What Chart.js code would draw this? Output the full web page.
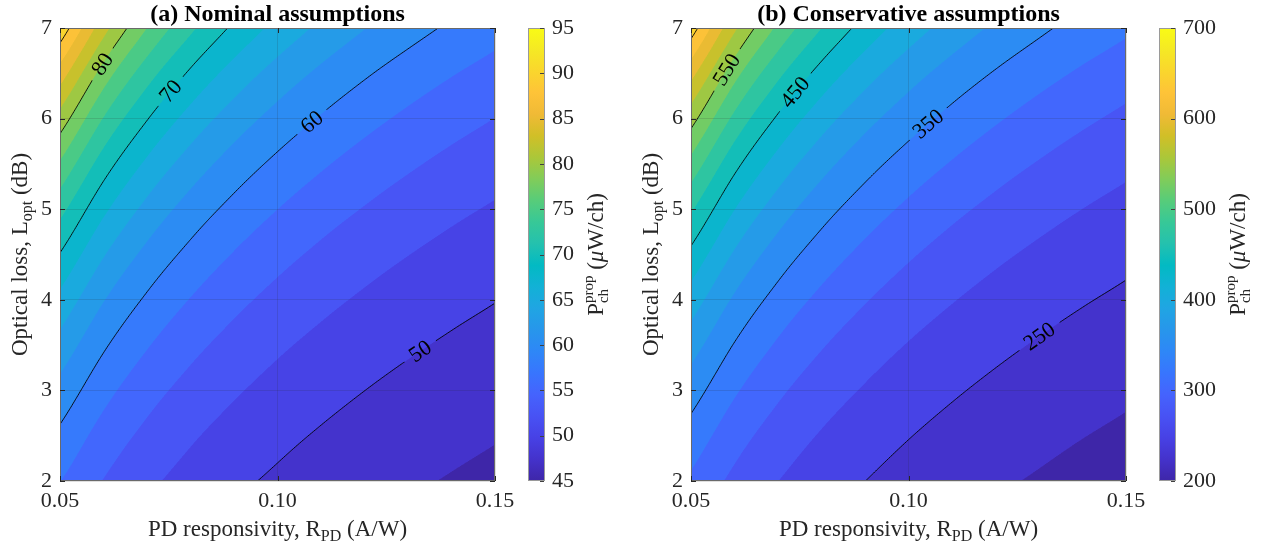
<!DOCTYPE html>
<html>
<head>
<meta charset="utf-8">
<title>Required optical power per channel</title>
<script src="https://cdn.jsdelivr.net/npm/chart.js@4.4.1/dist/chart.umd.min.js"></script>
<style>
  html, body { margin: 0; padding: 0; background: #fff; }
  #page { position: relative; width: 1273px; height: 551px; overflow: hidden; }
  #page canvas { position: absolute; top: 0; }
</style>
</head>
<body>
<div id="page">
  <canvas id="nominalChart" width="520" height="551" style="left:0px"></canvas>
  <canvas id="nominalBar" width="100" height="551" style="left:520px"></canvas>
  <canvas id="conservativeChart" width="520" height="551" style="left:631px"></canvas>
  <canvas id="conservativeBar" width="110" height="551" style="left:1151px"></canvas>
</div>
<script>
// Sweep axes
const responsivity = [0.05, 0.06, 0.07, 0.08, 0.09, 0.10, 0.11, 0.12, 0.13, 0.14, 0.15]; // A/W
const opticalLoss = [2, 2.5, 3, 3.5, 4, 4.5, 5, 5.5, 6, 6.5, 7]; // dB

// Required power per channel (uW/ch), one row per optical loss value
const nominalPower = [
    [57.55, 54.91, 53.02, 51.61, 50.50, 49.62, 48.90, 48.30, 47.80, 47.36, 46.98],
    [59.48, 56.52, 54.40, 52.81, 51.58, 50.59, 49.78, 49.11, 48.54, 48.05, 47.63],
    [61.65, 58.33, 55.95, 54.17, 52.79, 51.68, 50.77, 50.01, 49.37, 48.83, 48.35],
    [64.09, 60.36, 57.69, 55.69, 54.14, 52.89, 51.88, 51.03, 50.31, 49.70, 49.16],
    [66.82, 62.63, 59.64, 57.40, 55.66, 54.26, 53.12, 52.17, 51.36, 50.67, 50.07],
    [69.88, 65.19, 61.83, 59.32, 57.36, 55.79, 54.51, 53.44, 52.54, 51.77, 51.09],
    [73.32, 68.05, 64.29, 61.46, 59.27, 57.51, 56.07, 54.88, 53.86, 52.99, 52.24],
    [77.18, 71.27, 67.04, 63.88, 61.41, 59.44, 57.83, 56.48, 55.35, 54.37, 53.53],
    [81.51, 74.88, 70.14, 66.58, 63.82, 61.61, 59.80, 58.29, 57.01, 55.92, 54.97],
    [86.37, 78.92, 73.61, 69.62, 66.52, 64.03, 62.00, 60.31, 58.88, 57.65, 56.59],
    [91.82, 83.47, 77.50, 73.02, 69.54, 66.76, 64.48, 62.58, 60.98, 59.60, 58.41]
];
const conservativePower = [
    [320.5, 294.1, 275.2, 261.1, 250.1, 241.2, 234.0, 228.0, 223.0, 218.6, 214.8],
    [339.8, 310.2, 289.0, 273.1, 260.8, 250.9, 242.8, 236.1, 230.4, 225.5, 221.3],
    [361.5, 328.3, 304.5, 286.7, 272.9, 261.8, 252.7, 245.1, 238.7, 233.3, 228.5],
    [385.9, 348.6, 321.9, 301.9, 286.4, 273.9, 263.8, 255.3, 248.1, 242.0, 236.6],
    [413.2, 371.3, 341.4, 319.0, 301.6, 287.6, 276.2, 266.7, 258.6, 251.7, 245.7],
    [443.8, 396.9, 363.3, 338.2, 318.6, 302.9, 290.1, 279.4, 270.4, 262.7, 255.9],
    [478.2, 425.5, 387.9, 359.6, 337.7, 320.1, 305.7, 293.8, 283.6, 274.9, 267.4],
    [516.8, 457.7, 415.4, 383.8, 359.1, 339.4, 323.3, 309.8, 298.5, 288.7, 280.3],
    [560.1, 493.8, 446.4, 410.8, 383.2, 361.1, 343.0, 327.9, 315.1, 304.2, 294.7],
    [608.7, 534.2, 481.1, 441.2, 410.2, 385.3, 365.0, 348.1, 333.8, 321.5, 310.9],
    [663.2, 579.7, 520.0, 475.2, 440.4, 412.6, 389.8, 370.8, 354.8, 341.0, 329.1]
];

// Ticks
const xTicks = [0.05, 0.10, 0.15];
const yTicks = [2, 3, 4, 5, 6, 7];
const nominalBarTicks = [45, 50, 55, 60, 65, 70, 75, 80, 85, 90, 95];
const conservativeBarTicks = [200, 300, 400, 500, 600, 700];

// Filled bands and labelled contour lines
const nominalLevels = [45, 47.5, 50, 52.5, 55, 57.5, 60, 62.5, 65, 67.5, 70, 72.5, 75, 77.5, 80, 82.5, 85, 87.5, 90, 92.5, 95];
const conservativeLevels = [200, 225, 250, 275, 300, 325, 350, 375, 400, 425, 450, 475, 500, 525, 550, 575, 600, 625, 650, 675, 700];
const nominalLines = [50, 60, 70, 80, 90];
const conservativeLines = [250, 350, 450, 550, 650];
const nominalLabelLevels = [50, 60, 70, 80];
const nominalLabelR = [0.1328, 0.1079, 0.0754, 0.0597];
const conservativeLabelLevels = [250, 350, 450, 550];
const conservativeLabelR = [0.1301, 0.1045, 0.0739, 0.0582];

// ---- styling ----
const serif = "'Liberation Serif', 'Times New Roman', serif";
const ink = '#262626';
const gridColor = 'rgba(38, 38, 38, 0.15)';
const frameColor = '#6a6a6a';

// parula colour map (MATLAB), sampled every third entry
const parulaStops = [
    [62, 38, 168], [68, 50, 203], [71, 65, 229], [72, 82, 244], [69, 99, 253], [56, 117, 254],
    [46, 135, 247], [39, 150, 235], [32, 165, 227], [18, 177, 214], [2, 186, 195], [36, 193, 174],
    [55, 200, 151], [87, 204, 122], [129, 204, 89], [171, 199, 57], [209, 191, 39], [240, 186, 54],
    [254, 195, 56], [250, 214, 45], [245, 233, 36], [249, 251, 21]
];

function parula(t) {
    t = Math.max(0, Math.min(1, t));
    const p = t * (parulaStops.length - 1);
    const i = Math.min(Math.floor(p), parulaStops.length - 2);
    const f = p - i;
    const a = parulaStops[i], b = parulaStops[i + 1];
    return [a[0] + (b[0] - a[0]) * f, a[1] + (b[1] - a[1]) * f, a[2] + (b[2] - a[2]) * f];
}

function font(size, style) {
    return (style ? style + ' ' : '') + size + 'px ' + serif;
}

// Catmull-Rom lookup in the (evenly spaced) table, so the contours come out smooth
function cubic(p0, p1, p2, p3, t) {
    return p1 + 0.5 * t * (p2 - p0 + t * (2 * p0 - 5 * p1 + 4 * p2 - p3 + t * (3 * (p1 - p2) + p3 - p0)));
}
function makeField(xs, ys, rows) {
    const nx = xs.length, ny = ys.length;
    // pad one cell on each side by linear extension
    const padRow = src => [2 * src[0] - src[1], ...src, 2 * src[nx - 1] - src[nx - 2]];
    const P = [];
    for (let j = -1; j <= ny; j++) {
        if (j < 0 || j >= ny) {
            const edge = padRow(rows[j < 0 ? 0 : ny - 1]);
            const inner = padRow(rows[j < 0 ? 1 : ny - 2]);
            P.push(edge.map((v, k) => 2 * v - inner[k]));
        } else {
            P.push(padRow(rows[j]));
        }
    }
    const x0 = xs[0], hx = xs[1] - xs[0], y0 = ys[0], hy = ys[1] - ys[0];
    const col = [0, 0, 0, 0];
    return function (x, y) {
        const fx = (x - x0) / hx, fy = (y - y0) / hy;
        const i = Math.max(0, Math.min(nx - 2, Math.floor(fx)));
        const j = Math.max(0, Math.min(ny - 2, Math.floor(fy)));
        const tx = Math.max(0, Math.min(1, fx - i)), ty = Math.max(0, Math.min(1, fy - j));
        for (let m = 0; m < 4; m++) {
            const r = P[j + m];
            col[m] = cubic(r[i], r[i + 1], r[i + 2], r[i + 3], tx);
        }
        return cubic(col[0], col[1], col[2], col[3], ty);
    };
}

function bandOf(levels, v) {
    let k = 0;
    while (k < levels.length - 1 && v >= levels[k + 1]) k++;
    return k;
}

// rich text: runs of {t, size, style, dy} or {sup, sub, size}
function runWidth(ctx, r) {
    ctx.font = font(r.size, r.style);
    if (r.sup) return Math.max(ctx.measureText(r.sup).width, ctx.measureText(r.sub).width);
    return ctx.measureText(r.t).width;
}
function drawRuns(ctx, runs, cx, base) {
    const total = runs.reduce((s, r) => s + runWidth(ctx, r), 0);
    let x = cx - total / 2;
    ctx.textAlign = 'left';
    ctx.textBaseline = 'alphabetic';
    runs.forEach(r => {
        const w = runWidth(ctx, r);
        ctx.font = font(r.size, r.style);
        if (r.sup) {
            ctx.fillText(r.sup, x, base - 10);
            ctx.fillText(r.sub, x, base + 5);
        } else {
            ctx.fillText(r.t, x, base + (r.dy || 0));
        }
        x += w;
    });
}

// filled contour bands + contour lines with inline labels
function contourPlugin(spec) {
    const field = makeField(responsivity, opticalLoss, spec.values);
    const cmin = spec.barTicks[0], cmax = spec.barTicks[spec.barTicks.length - 1];
    const colors = spec.levels.map(l => parula((l - cmin) / (cmax - cmin)));
    return {
        id: 'contour',
        beforeDraw(chart) {
            const { ctx, chartArea: a, scales } = chart;
            const w = Math.round(a.right - a.left), h = Math.round(a.bottom - a.top);
            const off = document.createElement('canvas');
            off.width = w; off.height = h;
            const octx = off.getContext('2d');
            const img = octx.createImageData(w, h);
            const S = 2;
            const xs = new Float64Array(w * S), ys = new Float64Array(h * S);
            for (let i = 0; i < w * S; i++) xs[i] = scales.x.getValueForPixel(a.left + (i + 0.5) / S);
            for (let j = 0; j < h * S; j++) ys[j] = scales.y.getValueForPixel(a.top + (j + 0.5) / S);
            const d = img.data;
            for (let py = 0; py < h; py++) {
                for (let px = 0; px < w; px++) {
                    let r = 0, g = 0, b = 0;
                    for (let j = 0; j < S; j++) {
                        for (let i = 0; i < S; i++) {
                            const c = colors[bandOf(spec.levels, field(xs[px * S + i], ys[py * S + j]))];
                            r += c[0]; g += c[1]; b += c[2];
                        }
                    }
                    const o = (py * w + px) * 4;
                    d[o] = r / (S * S); d[o + 1] = g / (S * S); d[o + 2] = b / (S * S); d[o + 3] = 255;
                }
            }
            octx.putImageData(img, 0, 0);
            ctx.drawImage(off, a.left, a.top);
        },
        afterDatasetsDraw(chart) {
            const { ctx, chartArea: a, scales } = chart;
            const sx = scales.x, sy = scales.y;
            const w = a.right - a.left, h = a.bottom - a.top;

            // sample the field on a fine pixel grid
            const nx = Math.round(w / 2) + 1, ny = Math.round(h / 2) + 1;
            const dx = w / (nx - 1), dy = h / (ny - 1);
            const g = new Float64Array(nx * ny);
            for (let j = 0; j < ny; j++) {
                const yv = sy.getValueForPixel(a.top + j * dy);
                for (let i = 0; i < nx; i++) g[j * nx + i] = field(sx.getValueForPixel(a.left + i * dx), yv);
            }

            // label placement: on the contour at the given responsivity
            ctx.font = font(22);
            const labels = spec.labelLevels.map((lev, n) => {
                const r = spec.labelR[n];
                let lo = opticalLoss[0], hi = opticalLoss[opticalLoss.length - 1];
                for (let it = 0; it < 40; it++) {
                    const mid = (lo + hi) / 2;
                    if (field(r, mid) < lev) lo = mid; else hi = mid;
                }
                const L = (lo + hi) / 2;
                const px = sx.getPixelForValue(r), py = sy.getPixelForValue(L);
                const gx = field(sx.getValueForPixel(px + 1), L) - field(sx.getValueForPixel(px - 1), L);
                const gy = field(r, sy.getValueForPixel(py + 1)) - field(r, sy.getValueForPixel(py - 1));
                let ang = Math.atan2(gx, -gy);
                if (ang > Math.PI / 2) ang -= Math.PI;
                if (ang < -Math.PI / 2) ang += Math.PI;
                return { text: String(lev), px, py, ang, tw: ctx.measureText(String(lev)).width };
            });

            ctx.save();
            ctx.beginPath();
            ctx.rect(a.left, a.top, w, h);
            labels.forEach(lb => {
                const hw = lb.tw / 2 + 8, hh = 11;
                const c = Math.cos(lb.ang), s = Math.sin(lb.ang);
                const pts = [[-hw, -hh], [hw, -hh], [hw, hh], [-hw, hh]].map(([u, v]) => [lb.px + u * c - v * s, lb.py + u * s + v * c]);
                ctx.moveTo(pts[0][0], pts[0][1]);
                for (let k = 1; k < 4; k++) ctx.lineTo(pts[k][0], pts[k][1]);
                ctx.closePath();
            });
            ctx.clip('evenodd');

            ctx.strokeStyle = '#000';
            ctx.lineWidth = 0.9;
            spec.lines.forEach(level => {
                ctx.beginPath();
                for (let j = 0; j < ny - 1; j++) {
                    for (let i = 0; i < nx - 1; i++) {
                        const A = g[j * nx + i] - level, B = g[j * nx + i + 1] - level;
                        const C = g[(j + 1) * nx + i + 1] - level, D = g[(j + 1) * nx + i] - level;
                        const x0 = a.left + i * dx, y0 = a.top + j * dy;
                        const pts = [];
                        if ((A < 0) !== (B < 0)) pts.push([x0 + dx * A / (A - B), y0]);
                        if ((B < 0) !== (C < 0)) pts.push([x0 + dx, y0 + dy * B / (B - C)]);
                        if ((C < 0) !== (D < 0)) pts.push([x0 + dx - dx * C / (C - D), y0 + dy]);
                        if ((D < 0) !== (A < 0)) pts.push([x0, y0 + dy - dy * D / (D - A)]);
                        if (pts.length >= 2) { ctx.moveTo(pts[0][0], pts[0][1]); ctx.lineTo(pts[1][0], pts[1][1]); }
                        if (pts.length === 4) { ctx.moveTo(pts[2][0], pts[2][1]); ctx.lineTo(pts[3][0], pts[3][1]); }
                    }
                }
                ctx.stroke();
            });
            ctx.restore();

            ctx.save();
            ctx.fillStyle = '#000';
            ctx.font = font(22);
            ctx.textAlign = 'center';
            ctx.textBaseline = 'middle';
            labels.forEach(lb => {
                ctx.save();
                ctx.translate(lb.px, lb.py);
                ctx.rotate(lb.ang);
                ctx.fillText(lb.text, 0, 1);
                ctx.restore();
            });
            ctx.restore();
        }
    };
}

// axes box, inward ticks, title and axis titles
function framePlugin(spec) {
    return {
        id: 'frame',
        afterDraw(chart) {
            const { ctx, chartArea: a, scales } = chart;
            ctx.save();
            ctx.strokeStyle = frameColor;
            ctx.lineWidth = 1;
            ctx.strokeRect(Math.round(a.left) + 0.5, Math.round(a.top) + 0.5, Math.round(a.right - a.left) - 1, Math.round(a.bottom - a.top) - 1);
            ctx.strokeStyle = ink;
            ctx.beginPath();
            xTicks.forEach(v => {
                const p = Math.round(scales.x.getPixelForValue(v)) + 0.5;
                ctx.moveTo(p, a.bottom); ctx.lineTo(p, a.bottom - 5);
                ctx.moveTo(p, a.top); ctx.lineTo(p, a.top + 5);
            });
            yTicks.forEach(v => {
                const p = Math.round(scales.y.getPixelForValue(v)) + 0.5;
                ctx.moveTo(a.left, p); ctx.lineTo(a.left + 5, p);
                ctx.moveTo(a.right, p); ctx.lineTo(a.right - 5, p);
            });
            ctx.stroke();

            const cx = (a.left + a.right) / 2;
            ctx.fillStyle = '#000';
            ctx.font = font(24, 'bold');
            ctx.textAlign = 'center';
            ctx.textBaseline = 'alphabetic';
            ctx.fillText(spec.title, cx, 21);

            ctx.fillStyle = ink;
            drawRuns(ctx, [
                { t: 'PD responsivity, R', size: 23 },
                { t: 'PD', size: 16, dy: 5 },
                { t: ' (A/W)', size: 23 }
            ], cx, 536);

            ctx.translate(a.left - 33, (a.top + a.bottom) / 2);
            ctx.rotate(-Math.PI / 2);
            drawRuns(ctx, [
                { t: 'Optical loss, L', size: 23 },
                { t: 'opt', size: 16, dy: 5 },
                { t: ' (dB)', size: 23 }
            ], 0, 0);
            ctx.restore();
        }
    };
}

// colour bar outline, ticks and label
const barFramePlugin = {
    id: 'barFrame',
    afterDraw(chart) {
        const { ctx, chartArea: a, scales } = chart;
        const ticksArr = scales.y.ticks.map(t => t.value);
        ctx.save();
        ctx.strokeStyle = '#9a9a9a';
        ctx.lineWidth = 1;
        ctx.strokeRect(Math.round(a.left) + 0.5, Math.round(a.top) + 0.5, Math.round(a.right - a.left) - 1, Math.round(a.bottom - a.top) - 1);
        ctx.strokeStyle = '#404040';
        ctx.beginPath();
        ticksArr.forEach(v => {
            const p = Math.round(scales.y.getPixelForValue(v)) + 0.5;
            ctx.moveTo(a.right - 1, p); ctx.lineTo(a.right - 5, p);
        });
        ctx.stroke();

        ctx.font = font(22);
        const widest = Math.max(...ticksArr.map(v => ctx.measureText(String(v)).width));
        ctx.fillStyle = ink;
        ctx.translate(a.right + 7 + widest + 29, (a.top + a.bottom) / 2);
        ctx.rotate(-Math.PI / 2);
        drawRuns(ctx, [
            { t: 'P', size: 23 },
            { sup: 'prop', sub: 'ch', size: 15 },
            { t: ' (', size: 23 },
            { t: '\u03bc', size: 23, style: 'italic' },
            { t: 'W/ch)', size: 23 }
        ], 0, 0);
        ctx.restore();
    }
};

function parulaGradient(chart, lo, hi) {
    if (!chart.chartArea) return 'rgb(62,38,168)';
    const y = chart.scales.y;
    const g = chart.ctx.createLinearGradient(0, y.getPixelForValue(lo), 0, y.getPixelForValue(hi));
    parulaStops.forEach((c, i) => g.addColorStop(i / (parulaStops.length - 1), 'rgb(' + c.join(',') + ')'));
    return g;
}

function makeMain(id, spec) {
    return new Chart(document.getElementById(id), {
        type: 'scatter',
        data: { datasets: [] },
        options: {
            responsive: false,
            animation: false,
            devicePixelRatio: 1,
            layout: { padding: { top: 28, right: 25, left: 0, bottom: 0 } },
            plugins: { legend: { display: false }, tooltip: { enabled: false } },
            scales: {
                x: {
                    type: 'linear',
                    min: responsivity[0],
                    max: responsivity[responsivity.length - 1],
                    afterBuildTicks: s => { s.ticks = xTicks.map(v => ({ value: v })); },
                    afterFit: s => { s.height = 70; s.paddingLeft = 0; s.paddingRight = 0; },
                    ticks: { font: { family: serif, size: 22 }, color: ink, padding: 7, maxRotation: 0, callback: v => v.toFixed(2) },
                    grid: { color: gridColor, drawTicks: false },
                    border: { display: false }
                },
                y: {
                    type: 'linear',
                    min: opticalLoss[0],
                    max: opticalLoss[opticalLoss.length - 1],
                    afterBuildTicks: s => { s.ticks = yTicks.map(v => ({ value: v })); },
                    afterFit: s => { s.width = 60; s.paddingTop = 0; s.paddingBottom = 0; },
                    ticks: { font: { family: serif, size: 22 }, color: ink, padding: 8, callback: v => String(v) },
                    grid: { color: gridColor, drawTicks: false },
                    border: { display: false }
                }
            }
        },
        plugins: [contourPlugin(spec), framePlugin(spec)]
    });
}

function makeBar(id, barTicks, width) {
    const lo = barTicks[0], hi = barTicks[barTicks.length - 1];
    return new Chart(document.getElementById(id), {
        type: 'bar',
        data: {
            labels: [''],
            datasets: [{
                data: [[lo, hi]],
                backgroundColor: c => parulaGradient(c.chart, lo, hi),
                borderWidth: 0,
                barPercentage: 1,
                categoryPercentage: 1
            }]
        },
        options: {
            responsive: false,
            animation: false,
            devicePixelRatio: 1,
            layout: { padding: { left: 8, top: 28, bottom: 70, right: 0 } },
            plugins: { legend: { display: false }, tooltip: { enabled: false } },
            scales: {
                x: { display: false },
                y: {
                    position: 'right',
                    min: lo,
                    max: hi,
                    afterBuildTicks: s => { s.ticks = barTicks.map(v => ({ value: v })); },
                    afterFit: s => { s.width = width - 8 - 17; s.paddingTop = 0; s.paddingBottom = 0; },
                    ticks: { font: { family: serif, size: 22 }, color: ink, padding: 7, callback: v => String(v) },
                    grid: { display: false, drawTicks: false },
                    border: { display: false }
                }
            }
        },
        plugins: [barFramePlugin]
    });
}

makeMain('nominalChart', {
    title: '(a) Nominal assumptions',
    values: nominalPower,
    levels: nominalLevels,
    lines: nominalLines,
    labelLevels: nominalLabelLevels,
    labelR: nominalLabelR,
    barTicks: nominalBarTicks
});
makeBar('nominalBar', nominalBarTicks, 100);

makeMain('conservativeChart', {
    title: '(b) Conservative assumptions',
    values: conservativePower,
    levels: conservativeLevels,
    lines: conservativeLines,
    labelLevels: conservativeLabelLevels,
    labelR: conservativeLabelR,
    barTicks: conservativeBarTicks
});
makeBar('conservativeBar', conservativeBarTicks, 110);
</script>
</body>
</html>
